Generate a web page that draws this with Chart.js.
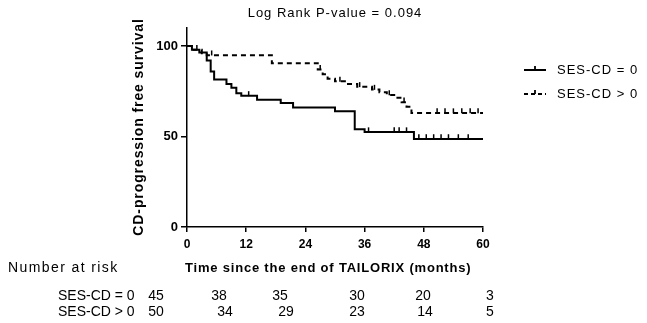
<!DOCTYPE html>
<html>
<head>
<meta charset="utf-8">
<script src="https://cdn.jsdelivr.net/npm/chart.js@4"></script>
<style>
  html, body { margin: 0; padding: 0; background: #fff; }
  #wrap { width: 647px; height: 323px; }
</style>
</head>
<body>
<div id="wrap"><canvas id="kmChart" width="647" height="323"></canvas></div>
<script>
// Kaplan-Meier curves (months, % free of progression)
const groupLabels = ['SES-CD = 0', 'SES-CD > 0'];

const zeroTimes = [0, 1, 2.5, 4, 4.8, 5.5, 8, 9, 10, 11, 14.2, 19, 21.5, 30, 34, 36, 46, 60];
const zeroSurv = [100, 98, 96.5, 92, 86, 81.5, 79, 77, 74, 72.5, 70.3, 68.5, 66, 64, 54, 52.5, 48.7, 48.7];
const zeroCensored = [12.5, 36.8, 42, 43, 44.5, 47, 48.5, 50, 51.5, 53, 55, 57];

const posTimes = [0, 1, 3, 4, 17.2, 26.5, 27.5, 28.5, 30, 32, 34.5, 37.5, 39, 40.5, 42, 43.5, 44.5, 45.5, 60];
const posSurv = [100, 98, 96, 95, 90.5, 87, 84.5, 82, 80.5, 79, 77.5, 76, 74.5, 73, 71.5, 69, 66.5, 63, 63];
const posCensored = [2, 5, 27, 31, 35, 38, 41, 44, 50.7, 52.3, 54, 55.7, 57.4, 59];

const xTicks = [0, 12, 24, 36, 48, 60];
const yTicks = [0, 50, 100];

const atRiskZero = [45, 38, 35, 30, 20, 3];
const atRiskPos = [50, 34, 29, 23, 14, 5];

const titleText = 'Log Rank P-value = 0.094';
const yTitle = 'CD-progression free survival';
const xTitle = 'Time since the end of TAILORIX (months)';
const riskTitle = 'Number at risk';

// pixel columns for the number-at-risk table
const riskColsZero = [156, 219, 280, 357, 423, 490];
const riskColsPos = [156, 225, 286, 357, 425, 490];

const FONT = '"Liberation Sans", Arial, sans-serif';

function survAt(times, surv, t) {
  let v = surv[0];
  for (let i = 0; i < times.length; i++) {
    if (times[i] <= t) v = surv[i];
  }
  return v;
}

function toPoints(times, surv) {
  return times.map((t, i) => ({ x: t, y: surv[i] }));
}

function censorPoints(times, surv, cens) {
  return cens.map(t => ({ x: t, y: survAt(times, surv, t) + 1.2 }));
}

const textPlugin = {
  id: 'kmText',
  afterDraw(chart) {
    const ctx = chart.ctx;
    const area = chart.chartArea;
    ctx.save();
    ctx.fillStyle = '#000';
    ctx.strokeStyle = '#000';
    ctx.textBaseline = 'middle';

    // title over plot
    ctx.font = '13px ' + FONT;
    ctx.letterSpacing = '1px';
    ctx.textAlign = 'center';
    ctx.fillText(titleText, (area.left + area.right) / 2, 13);

    // x axis title
    ctx.font = 'bold 13px ' + FONT;
    ctx.letterSpacing = '0.8px';
    ctx.textAlign = 'left';
    ctx.fillText(xTitle, 185, 268);

    // y axis title
    ctx.save();
    ctx.translate(139, 127);
    ctx.rotate(-Math.PI / 2);
    ctx.font = 'bold 14px ' + FONT;
    ctx.letterSpacing = '0.9px';
    ctx.textAlign = 'center';
    ctx.fillText(yTitle, 0, 0);
    ctx.restore();

    // number at risk table
    ctx.font = '14px ' + FONT;
    ctx.letterSpacing = '1.4px';
    ctx.textAlign = 'left';
    ctx.fillText(riskTitle, 8, 268);
    ctx.letterSpacing = '0px';
    ctx.fillText(groupLabels[0], 58, 296);
    ctx.fillText(groupLabels[1], 58, 312);
    ctx.textAlign = 'center';
    atRiskZero.forEach((n, i) => ctx.fillText(String(n), riskColsZero[i], 296));
    atRiskPos.forEach((n, i) => ctx.fillText(String(n), riskColsPos[i], 312));

    // legend
    ctx.lineWidth = 1.8;
    ctx.beginPath();
    ctx.moveTo(524, 70);
    ctx.lineTo(546, 70);
    ctx.moveTo(535, 66);
    ctx.lineTo(535, 70);
    ctx.stroke();
    ctx.setLineDash([4, 3]);
    ctx.beginPath();
    ctx.moveTo(524, 94);
    ctx.lineTo(546, 94);
    ctx.stroke();
    ctx.setLineDash([]);
    ctx.beginPath();
    ctx.moveTo(535, 90);
    ctx.lineTo(535, 94);
    ctx.stroke();

    ctx.font = '13px ' + FONT;
    ctx.letterSpacing = '1px';
    ctx.textAlign = 'left';
    ctx.fillText(groupLabels[0], 557, 70);
    ctx.fillText(groupLabels[1], 557, 94);
    ctx.restore();
  }
};

const ctx = document.getElementById('kmChart').getContext('2d');

new Chart(ctx, {
  type: 'line',
  data: {
    datasets: [
      {
        label: groupLabels[0],
        data: toPoints(zeroTimes, zeroSurv),
        stepped: true,
        borderColor: '#000',
        borderWidth: 2,
        pointRadius: 0,
        fill: false
      },
      {
        label: groupLabels[1],
        data: toPoints(posTimes, posSurv),
        stepped: true,
        borderColor: '#000',
        borderWidth: 2,
        borderDash: [5, 4],
        pointRadius: 0,
        fill: false
      },
      {
        type: 'scatter',
        data: censorPoints(zeroTimes, zeroSurv, zeroCensored),
        showLine: false,
        pointStyle: 'line',
        rotation: 90,
        pointRadius: 2.5,
        borderColor: '#000',
        borderWidth: 1.5
      },
      {
        type: 'scatter',
        data: censorPoints(posTimes, posSurv, posCensored),
        showLine: false,
        pointStyle: 'line',
        rotation: 90,
        pointRadius: 2.5,
        borderColor: '#000',
        borderWidth: 1.5
      }
    ]
  },
  options: {
    responsive: false,
    animation: false,
    devicePixelRatio: 1,
    layout: {
      padding: { top: 28, right: 164, left: 0, bottom: 0 }
    },
    plugins: {
      legend: { display: false },
      tooltip: { enabled: false },
      title: { display: false }
    },
    scales: {
      x: {
        type: 'linear',
        min: 0,
        max: 60,
        afterBuildTicks: s => { s.ticks = xTicks.map(v => ({ value: v })); },
        afterFit: s => { s.height = 96; },
        grid: { display: true, drawOnChartArea: false, drawTicks: true, tickLength: 5, color: '#000', lineWidth: 1.5 },
        border: { display: true, color: '#000', width: 1.5 },
        ticks: {
          color: '#000',
          padding: 5,
          maxRotation: 0,
          font: { family: FONT, size: 12, weight: 'bold' }
        }
      },
      y: {
        min: 0,
        max: 110,
        afterBuildTicks: s => { s.ticks = yTicks.map(v => ({ value: v })); },
        afterFit: s => { s.width = 187; },
        grid: { display: true, drawOnChartArea: false, drawTicks: true, tickLength: 6, color: '#000', lineWidth: 1.5 },
        border: { display: true, color: '#000', width: 1.5 },
        ticks: {
          color: '#000',
          padding: 3,
          font: { family: FONT, size: 13, weight: 'bold' }
        }
      }
    }
  },
  plugins: [textPlugin]
});
</script>
</body>
</html>
